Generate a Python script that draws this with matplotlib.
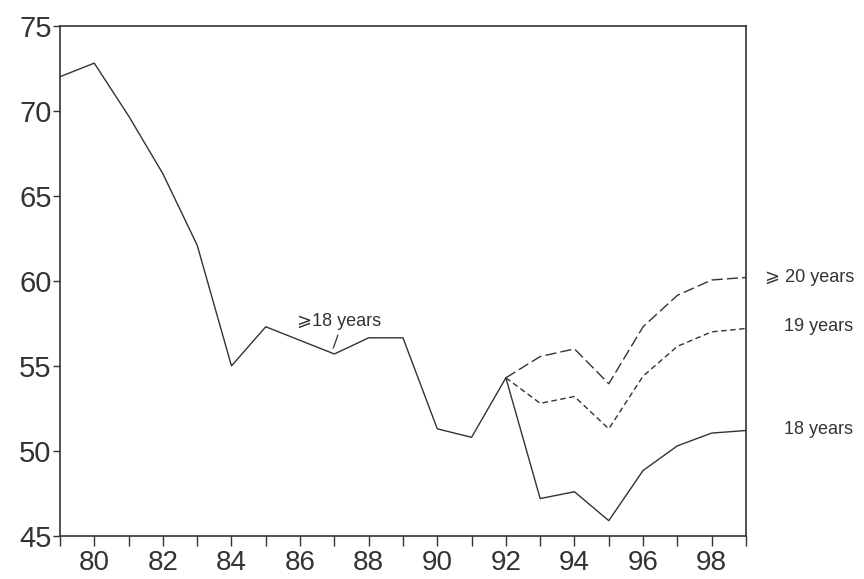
import numpy as np
import matplotlib
matplotlib.use('Agg')
import matplotlib.pyplot as plt

# common series up to 1992
years_all = [79, 80, 81, 82, 83, 84, 85, 86, 87, 88, 89, 90, 91, 92]
rate_all = [72.0, 72.8, 69.7, 66.3, 62.1, 55.0, 57.3, 56.5, 55.7, 56.65, 56.65, 51.3, 50.8, 54.3]

# split series from 1992
years_split = [92, 93, 94, 95, 96, 97, 98, 99]
rate_18 = [54.3, 47.2, 47.6, 45.9, 48.85, 50.3, 51.05, 51.2]
rate_19 = [54.3, 52.8, 53.2, 51.3, 54.4, 56.15, 57.0, 57.2]
rate_20 = [54.3, 55.55, 56.0, 53.95, 57.3, 59.15, 60.05, 60.2]

plt.rcParams['font.family'] = ['Liberation Sans', 'DejaVu Sans']
ink = '#333333'

fig = plt.figure(figsize=(8.64, 5.79), dpi=100)
ax = fig.add_axes([0.0694, 0.0743, 0.794, 0.8813])

ax.plot(years_all, rate_all, color=ink, lw=1.0)
ax.plot(years_split, rate_18, color=ink, lw=1.0)
ax.plot(years_split, rate_19, color=ink, lw=1.0, dashes=(4, 2.5))
ax.plot(years_split, rate_20, color=ink, lw=1.0, dashes=(8, 3))

ax.set_xlim(79, 99)
ax.set_ylim(45, 75)
ax.set_xticks(range(79, 100), minor=True)
ax.set_xticks(range(80, 99, 2))
ax.set_yticks(range(45, 76, 5))
ax.tick_params(axis='both', which='both', direction='out', color=ink, labelcolor=ink,
               labelsize=20, width=1.0)
ax.tick_params(axis='x', which='both', length=7, pad=3)
ax.tick_params(axis='y', length=5, pad=1, labelsize=21)
for s in ax.spines.values():
    s.set_color(ink)
    s.set_linewidth(1.2)

txt = dict(color=ink, fontsize=13)
ax.text(1.028, rate_20[-1], '\u2a7e 20 years', transform=ax.get_yaxis_transform(),
        ha='left', va='center', **txt)
ax.text(1.056, rate_19[-1] + 0.1, '19 years', transform=ax.get_yaxis_transform(),
        ha='left', va='center', **txt)
ax.text(1.056, rate_18[-1] + 0.05, '18 years', transform=ax.get_yaxis_transform(),
        ha='left', va='center', **txt)
ax.text(87.15, 57.6, '\u2a7e18 years', ha='center', va='center', **txt)
ax.plot([87.1, 86.97], [56.8, 56.05], color=ink, lw=0.9)

fig.savefig('out.png', dpi=100)
